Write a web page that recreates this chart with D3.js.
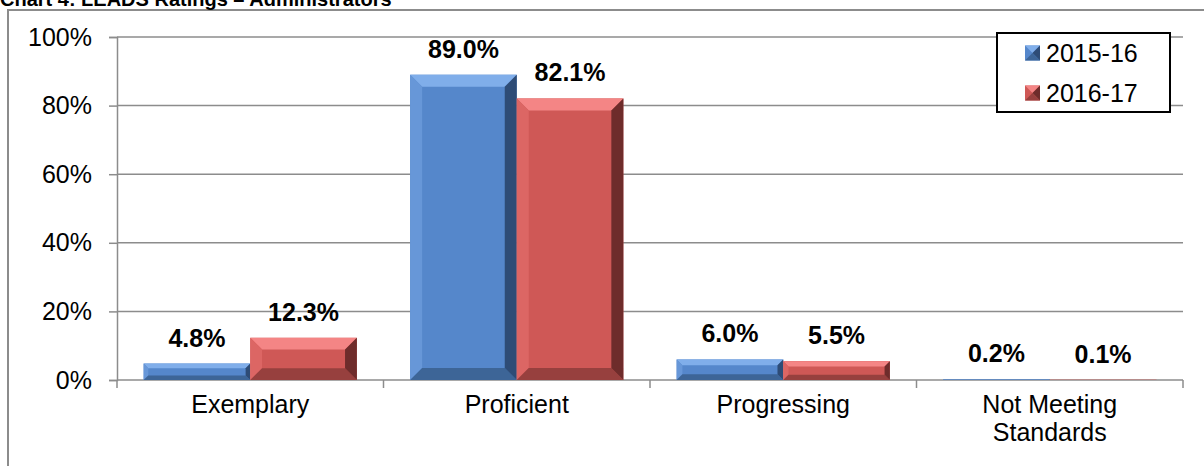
<!DOCTYPE html>
<html>
<head>
<meta charset="utf-8">
<script src="https://cdn.jsdelivr.net/npm/d3@7"></script>
<style type="text/css">
  body{
    margin: 0px;
    background: white;
  }
  text{
    font-family: Arial, 'Liberation Sans', sans-serif;
    fill: black;
  }
</style>
</head>
<body>
<svg id="chart" width="1204" height="466"></svg>
<script>

var categories = [['Exemplary'], ['Proficient'], ['Progressing'], ['Not Meeting', 'Standards']];
var seriesNames = ['2015-16', '2016-17'];
var values1516 = [4.8, 89.0, 6.0, 0.2];
var values1617 = [12.3, 82.1, 5.5, 0.1];
var yTicks = [0, 20, 40, 60, 80, 100];

var title = 'Chart 4: LEADS Ratings \u2013 Administrators';

// face, top light, left, bottom, right dark
var palette = {
  '2015-16': { face: '#5587cb', top: '#80aeea', left: '#6797d8', bottom: '#3d6597', right: '#2e4c76' },
  '2016-17': { face: '#cf5856', top: '#f48585', left: '#dc6664', bottom: '#97403e', right: '#6e2c2b' }
};

var svg = d3.select('#chart');

// outer chart border (runs off right / bottom like the cropped original)
svg.append('rect')
  .attr('x', 8)
  .attr('y', 10)
  .attr('width', 1300)
  .attr('height', 600)
  .attr('fill', 'white')
  .attr('stroke', '#8c8c8c')
  .attr('stroke-width', 2);

svg.append('text')
  .attr('x', 0)
  .attr('y', 6)
  .style('font-size', '20px')
  .style('font-weight', 'bold')
  .text(title);

var catKeys = categories.map(function(c) { return c.join(' '); });

var x0 = d3.scaleBand().domain(catKeys).range([117, 1183]);
var x1 = d3.scaleBand().domain(seriesNames).range([0, x0.bandwidth()]).paddingOuter(0.25);
var y = d3.scaleLinear().domain([0, 100]).range([380, 37]);

// gridlines
svg.append('g')
  .selectAll('line')
  .data(yTicks.filter(function(t) { return t > 0; }))
  .enter()
  .append('line')
  .attr('x1', 117)
  .attr('x2', 1183)
  .attr('y1', function(d) { return y(d); })
  .attr('y2', function(d) { return y(d); })
  .attr('stroke', '#8c8c8c')
  .attr('stroke-width', 1.5);

// y axis
var yAxis = d3.axisLeft(y)
  .tickValues(yTicks)
  .tickSize(8)
  .tickPadding(17)
  .tickFormat(function(d) { return d + '%'; });

var gy = svg.append('g')
  .attr('transform', 'translate(117,0)')
  .call(yAxis);
gy.select('.domain').attr('stroke', '#8c8c8c').attr('stroke-width', 1.5);
gy.selectAll('.tick line').attr('stroke', '#8c8c8c').attr('stroke-width', 1.5);
gy.selectAll('.tick text')
  .style('font-size', '25px')
  .attr('fill', 'black');

// x axis baseline + ticks at band edges
svg.append('line')
  .attr('x1', 117).attr('x2', 1183)
  .attr('y1', y(0)).attr('y2', y(0))
  .attr('stroke', '#8c8c8c')
  .attr('stroke-width', 1.5);

var edges = catKeys.map(function(k) { return x0(k); }).concat([x0.range()[1]]);
svg.append('g')
  .selectAll('line')
  .data(edges)
  .enter()
  .append('line')
  .attr('x1', function(d) { return d; })
  .attr('x2', function(d) { return d; })
  .attr('y1', y(0))
  .attr('y2', y(0) + 8)
  .attr('stroke', '#8c8c8c')
  .attr('stroke-width', 1.5);

// category labels
var catLabels = svg.append('g')
  .selectAll('text')
  .data(categories)
  .enter()
  .append('text')
  .attr('text-anchor', 'middle')
  .style('font-size', '25px')
  .attr('transform', function(d, i) {
    return 'translate(' + (x0(catKeys[i]) + x0.bandwidth() / 2) + ',413)';
  });

catLabels.selectAll('tspan')
  .data(function(d) { return d; })
  .enter()
  .append('tspan')
  .attr('x', 0)
  .attr('dy', function(d, i) { return i === 0 ? 0 : 28; })
  .text(function(d) { return d; });

// bars
var barData = [];
catKeys.forEach(function(k, i) {
  barData.push({ cat: k, series: '2015-16', value: values1516[i] });
  barData.push({ cat: k, series: '2016-17', value: values1617[i] });
});

function bevelBar(g, d) {
  var bx = x0(d.cat) + x1(d.series);
  var bw = x1.bandwidth();
  var by = y(d.value);
  var bh = y(0) - by;
  var c = palette[d.series];
  var b = Math.min(12, bh * 0.28, bw / 2);

  g.append('rect')
    .attr('x', bx).attr('y', by)
    .attr('width', bw).attr('height', bh)
    .attr('fill', c.face);

  var x2 = bx + bw, y2 = by + bh;
  var polys = [
    { pts: [[bx, by], [x2, by], [x2 - b, by + b], [bx + b, by + b]], fill: c.top },
    { pts: [[bx, by], [bx + b, by + b], [bx + b, y2 - b], [bx, y2]], fill: c.left },
    { pts: [[bx, y2], [bx + b, y2 - b], [x2 - b, y2 - b], [x2, y2]], fill: c.bottom },
    { pts: [[x2, by], [x2, y2], [x2 - b, y2 - b], [x2 - b, by + b]], fill: c.right }
  ];
  polys.forEach(function(p) {
    g.append('polygon')
      .attr('points', p.pts.map(function(q) { return q.join(','); }).join(' '))
      .attr('fill', p.fill);
  });
}

var barG = svg.append('g');
barData.forEach(function(d) {
  bevelBar(barG.append('g'), d);
});

// value labels
svg.append('g')
  .selectAll('text')
  .data(barData)
  .enter()
  .append('text')
  .attr('text-anchor', 'middle')
  .style('font-size', '25px')
  .style('font-weight', 'bold')
  .attr('x', function(d) { return x0(d.cat) + x1(d.series) + x1.bandwidth() / 2; })
  .attr('y', function(d) { return y(d.value) - 17; })
  .text(function(d) { return d.value.toFixed(1) + '%'; });

// legend
var legend = svg.append('g');
legend.append('rect')
  .attr('x', 997).attr('y', 33)
  .attr('width', 173).attr('height', 79)
  .attr('fill', 'white')
  .attr('stroke', 'black')
  .attr('stroke-width', 2);

seriesNames.forEach(function(s, i) {
  var cy = 53 + i * 40;
  var c = palette[s];
  var sx = 1025, sy = cy - 7.5, ss = 15;
  legend.append('rect')
    .attr('x', sx).attr('y', sy)
    .attr('width', ss).attr('height', ss)
    .attr('fill', c.face);
  legend.append('polygon')
    .attr('points', [[sx, sy], [sx + ss, sy], [sx + ss / 2, sy + ss / 2]].join(' '))
    .attr('fill', c.top);
  legend.append('polygon')
    .attr('points', [[sx + ss, sy], [sx + ss, sy + ss], [sx + ss / 2, sy + ss / 2]].join(' '))
    .attr('fill', c.right);
  legend.append('polygon')
    .attr('points', [[sx, sy + ss], [sx + ss, sy + ss], [sx + ss / 2, sy + ss / 2]].join(' '))
    .attr('fill', c.bottom);
  legend.append('text')
    .attr('x', 1046)
    .attr('y', cy)
    .attr('dy', '0.36em')
    .style('font-size', '25px')
    .text(s);
});

</script>
</body>
</html>
